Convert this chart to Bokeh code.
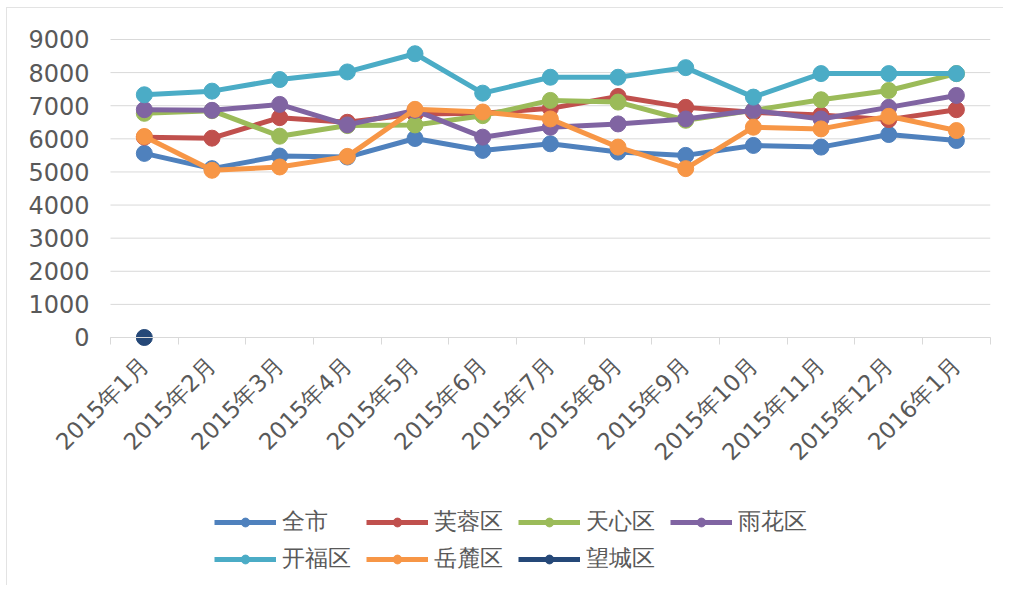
import math
from bokeh.plotting import figure
from bokeh.models import FixedTicker, Legend, LegendItem, Range1d
from bokeh.embed import file_html
from bokeh.resources import INLINE

months = ["2015年1月", "2015年2月", "2015年3月", "2015年4月", "2015年5月", "2015年6月",
          "2015年7月", "2015年8月", "2015年9月", "2015年10月", "2015年11月", "2015年12月", "2016年1月"]

quanshi = [5560, 5100, 5480, 5450, 6010, 5650, 5850, 5600, 5500, 5800, 5750, 6130, 5950]
furong = [6050, 6020, 6640, 6500, 6750, 6770, 6920, 7280, 6950, 6800, 6720, 6580, 6880]
tianxin = [6770, 6850, 6080, 6400, 6420, 6700, 7160, 7110, 6560, 6860, 7180, 7460, 7970]
yuhua = [6880, 6860, 7040, 6420, 6860, 6050, 6350, 6450, 6600, 6860, 6600, 6950, 7310]
kaifu = [7330, 7440, 7790, 8020, 8570, 7380, 7860, 7860, 8150, 7260, 7970, 7970, 7970]
yuelu = [6070, 5050, 5150, 5470, 6890, 6810, 6600, 5750, 5100, 6350, 6300, 6680, 6250]
wangcheng = [0] + [float("nan")] * 12

names = ["全市", "芙蓉区", "天心区", "雨花区", "开福区", "岳麓区", "望城区"]
series = [quanshi, furong, tianxin, yuhua, kaifu, yuelu, wangcheng]
colors = ["#4F81BD", "#C0504D", "#9BBB59", "#8064A2", "#4BACC6", "#F79646", "#254878"]
y_ticks = list(range(0, 9001, 1000))

xs = list(range(len(months)))
n = len(months)
FONT = "DejaVu Sans"
TXT = "#595959"

# The frame covers the whole chart area so that the axes (drawn at fixed
# locations) and the legend sit inside it; grid lines span only the data area.
p = figure(frame_width=996, frame_height=577,
           x_range=Range1d(-2.022, n - 0.5 + 0.196), y_range=Range1d(-7490, 9936),
           output_backend="svg", toolbar_location=None,
           min_border_left=0, min_border_top=0, min_border_right=0, min_border_bottom=0)
p.outline_line_color = None
p.styles = {"margin-left": "6px", "margin-top": "7px",
            "border-left": "1px solid #e3e3e3", "border-top": "1px solid #e3e3e3"}

p.xgrid.visible = False
p.ygrid.visible = False
p.segment(x0=[-0.5] * len(y_ticks), x1=[n - 0.5] * len(y_ticks), y0=y_ticks, y1=y_ticks,
          line_color="#d9d9d9", line_width=1)

p.yaxis.fixed_location = -0.5
p.yaxis.ticker = FixedTicker(ticks=y_ticks)
p.yaxis.axis_line_color = None
p.yaxis.major_tick_line_color = None
p.yaxis.minor_tick_line_color = None
p.yaxis.major_label_text_font_size = "24px"
p.yaxis.major_label_text_color = TXT
p.yaxis.major_label_text_font = FONT
p.yaxis.major_label_standoff = 15

p.xaxis.fixed_location = 0
p.xaxis.bounds = (-0.5, n - 0.5)
p.xaxis.ticker = FixedTicker(ticks=xs, minor_ticks=[i - 0.5 for i in range(n + 1)])
p.xaxis.major_label_overrides = {i: m for i, m in enumerate(months)}
p.xaxis.axis_line_color = "#d9d9d9"
p.xaxis.major_tick_line_color = None
p.xaxis.major_tick_out = 0
p.xaxis.minor_tick_line_color = "#d9d9d9"
p.xaxis.minor_tick_out = 7
p.xaxis.minor_tick_in = 0
p.xaxis.major_label_orientation = math.pi / 4
p.xaxis.major_label_text_font_size = "23px"
p.xaxis.major_label_text_color = TXT
p.xaxis.major_label_text_font = FONT
p.xaxis.major_label_standoff = 17

items = []
for name, ys, c in zip(names, series, colors):
    lr = p.line(xs, ys, line_color=c, line_width=5)
    sr = p.scatter(xs, ys, size=16, fill_color=c, line_color=c)
    items.append(LegendItem(label=name, renderers=[lr, sr]))

legend = Legend(items=items, orientation="horizontal", ncols=4, location=(207, 11))
legend.label_text_font_size = "23px"
legend.label_text_color = TXT
legend.label_text_font = FONT
legend.glyph_width = 62
legend.glyph_height = 22
legend.label_standoff = 6
legend.label_width = 78
legend.spacing = 6
legend.border_line_color = None
legend.background_fill_alpha = 0
legend.margin = 0
legend.padding = 6
p.add_layout(legend, "center")

open("out.html", "w").write(file_html(p, INLINE))
